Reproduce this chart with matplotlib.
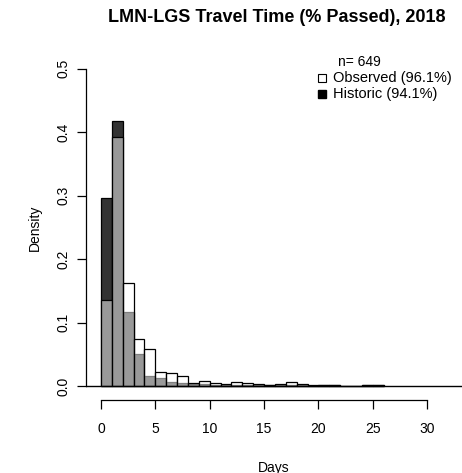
import matplotlib
matplotlib.use("Agg")
import matplotlib.pyplot as plt
import numpy as np

plt.rcParams['font.family'] = ['Liberation Sans', 'DejaVu Sans']

# Travel-time histograms (density per 1-day bin, bins start at 0)
bin_starts = list(range(0, 26))
observed = [0.136, 0.393, 0.163, 0.074, 0.058, 0.0226, 0.020, 0.016, 0.004, 0.008,
            0.005, 0.003, 0.006, 0.004, 0.003, 0.0015, 0.003, 0.0055, 0.003, 0.0,
            0.0015, 0.0015, 0.0, 0.0, 0.0015, 0.0015]
historic = [0.296, 0.418, 0.117, 0.050, 0.016, 0.0126, 0.006, 0.004, 0.003, 0.003,
            0.002, 0.002, 0.002, 0.0015, 0.0015, 0.001, 0.001, 0.002, 0.002, 0.001,
            0.001, 0.001, 0.0005, 0.0005, 0.001, 0.001]
x_ticks = [0, 5, 10, 15, 20, 25, 30]
y_ticks = [0.0, 0.1, 0.2, 0.3, 0.4, 0.5]
n_obs = 649
pct_observed = 96.1
pct_historic = 94.1

W, H = 462, 473
fig = plt.figure(figsize=(W / 100, H / 100), dpi=100)
ax = fig.add_axes([86 / W, (H - 400) / H, (W - 86) / W, (400 - 55) / H])

# Historic drawn dark, observed drawn as translucent white over it
ax.bar(bin_starts, historic, width=1.0, align='edge', color=(0, 0, 0, 0.8),
       edgecolor='black', linewidth=0.9)
ax.bar(bin_starts, observed, width=1.0, align='edge', color=(1, 1, 1, 0.5),
       edgecolor='black', linewidth=0.9)
ax.axhline(0, color='black', linewidth=1.0)

ax.set_xlim(-1.38, 33.2)
ax.set_ylim(-0.0221, 0.5218)

for s in ['top', 'right']:
    ax.spines[s].set_visible(False)
ax.spines['bottom'].set_bounds(0, 30)
ax.spines['left'].set_bounds(0, 0.5)
for s in ['bottom', 'left']:
    ax.spines[s].set_linewidth(0.9)

ax.set_xticks(x_ticks)
ax.set_xticklabels([str(t) for t in x_ticks])
ax.set_yticks(y_ticks)
ax.set_yticklabels([f"{t:.1f}" for t in y_ticks], rotation=90, va='center')
ax.tick_params(axis='x', length=6.5, width=0.9, pad=9, labelsize=10)
ax.tick_params(axis='y', length=6.5, width=0.9, pad=5, labelsize=10)

ax.set_xlabel("Days", fontsize=10, labelpad=18)
ax.set_ylabel("Density", fontsize=10, labelpad=10)

fig.text(277 / W, 1 - 17 / H, "LMN-LGS Travel Time (% Passed), 2018",
         ha='center', va='center', fontsize=13, fontweight='bold')

# Legend block
fig.text(338 / W, 1 - 62 / H, f"n= {n_obs}", ha='left', va='center', fontsize=10)
fig.text(333 / W, 1 - 78 / H, f"Observed ({pct_observed}%)", ha='left', va='center', fontsize=10.5)
fig.text(333 / W, 1 - 94 / H, f"Historic ({pct_historic}%)", ha='left', va='center', fontsize=10.5)
fig.lines.append(plt.Line2D([322 / W], [1 - 78 / H], marker='s', markersize=5.5,
                            markerfacecolor='white', markeredgecolor='black',
                            markeredgewidth=0.8, transform=fig.transFigure))
fig.lines.append(plt.Line2D([322 / W], [1 - 94 / H], marker='s', markersize=5.5,
                            markerfacecolor='black', markeredgecolor='black',
                            transform=fig.transFigure))

fig.savefig("out.png", dpi=100)
